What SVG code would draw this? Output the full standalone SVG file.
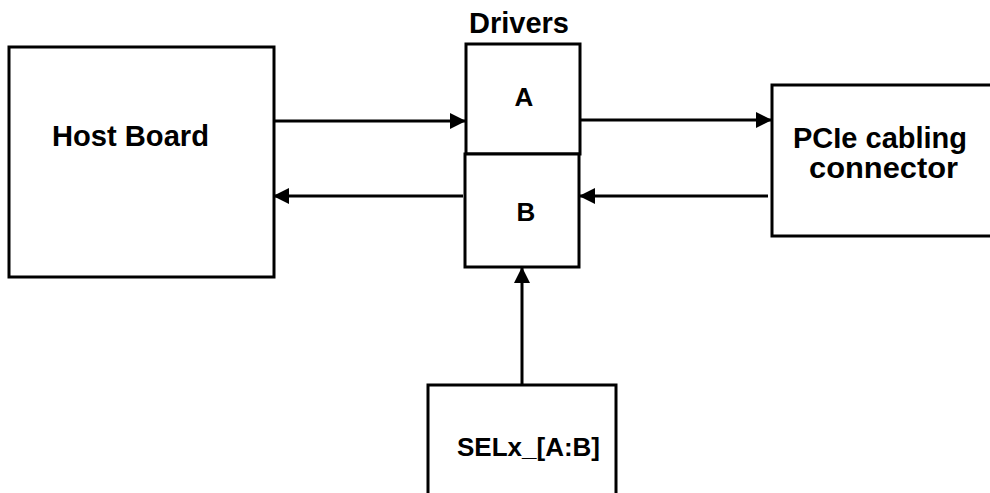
<svg xmlns="http://www.w3.org/2000/svg" width="990" height="493" viewBox="0 0 990 493">
<style>
.box{fill:#fff;stroke:#000;stroke-width:3}
.lbl{font-family:"Liberation Sans",Arial,sans-serif;font-weight:bold;fill:#000}
.conn{stroke:#000;stroke-width:3;fill:none}
</style>
<defs>
<marker id="ah" markerUnits="userSpaceOnUse" markerWidth="16" markerHeight="16" viewBox="0 0 16 16" refX="16" refY="8" orient="auto">
<path d="M0,0 L16,8 L0,16 Z" fill="#000"/>
</marker>
</defs>
<rect width="990" height="493" fill="#fff"/>
<g id="host">
<rect class="box" x="9" y="47" width="265" height="230"/>
<text class="lbl" x="52" y="146" font-size="29" textLength="157" lengthAdjust="spacingAndGlyphs">Host Board</text>
</g>
<g id="drivers-label">
<text class="lbl" x="469" y="33" font-size="29" textLength="100" lengthAdjust="spacingAndGlyphs">Drivers</text>
</g>
<g id="driverA">
<rect class="box" x="466" y="44" width="114" height="110"/>
<text class="lbl" x="524" y="106" font-size="26" text-anchor="middle">A</text>
</g>
<g id="driverB">
<rect class="box" x="465" y="154" width="114" height="113"/>
<text class="lbl" x="526" y="221" font-size="26" text-anchor="middle">B</text>
</g>
<g id="pcie">
<rect class="box" x="772" y="85" width="230" height="151"/>
<text class="lbl" x="793" y="148" font-size="29" textLength="174" lengthAdjust="spacingAndGlyphs">PCIe cabling</text>
<text class="lbl" x="809" y="178" font-size="29" textLength="149" lengthAdjust="spacingAndGlyphs">connector</text>
</g>
<g id="sel">
<rect class="box" x="428" y="385" width="188" height="120"/>
<text class="lbl" x="457" y="456" font-size="26" textLength="143" lengthAdjust="spacingAndGlyphs">SELx_[A:B]</text>
</g>
<g id="connectors">
<line class="conn" x1="274" y1="121" x2="466" y2="121" marker-end="url(#ah)"/>
<line class="conn" x1="580" y1="120" x2="772" y2="120" marker-end="url(#ah)"/>
<line class="conn" x1="768" y1="196" x2="579" y2="196" marker-end="url(#ah)"/>
<line class="conn" x1="463" y1="196" x2="273" y2="196" marker-end="url(#ah)"/>
<line class="conn" x1="522" y1="385" x2="522" y2="267" marker-end="url(#ah)"/>
</g>
</svg>
